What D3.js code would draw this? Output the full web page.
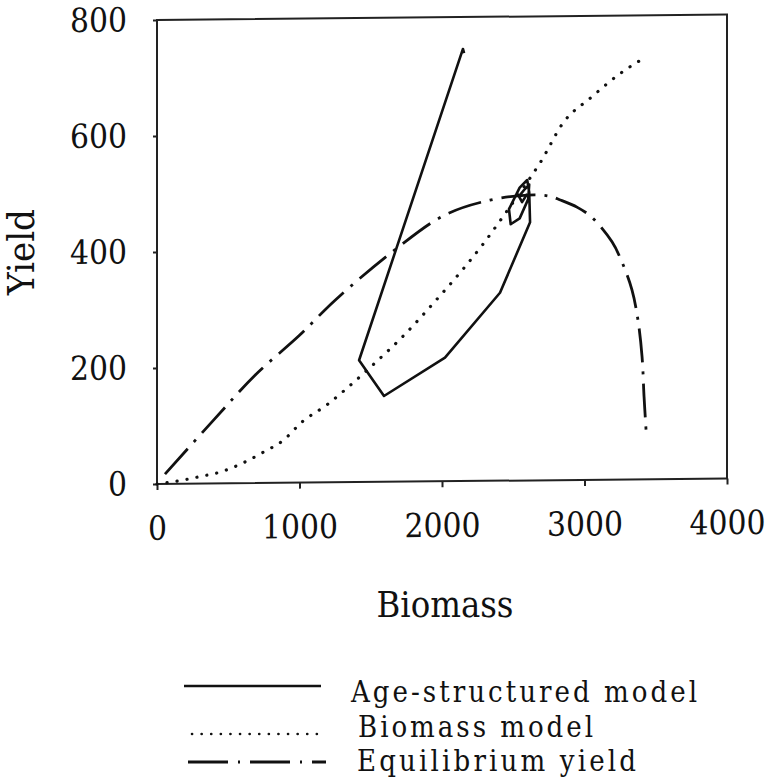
<!DOCTYPE html>
<html>
<head>
<meta charset="utf-8">
<script src="https://cdn.jsdelivr.net/npm/d3@7"></script>
<style>
  html, body { margin: 0; padding: 0; background: #fff; }
  svg { display: block; }
  svg text { font-family: "DejaVu Serif Condensed", "DejaVu Serif", "Liberation Serif", "Times New Roman", serif; font-stretch: condensed; fill: #111; }
</style>
</head>
<body>
<svg id="chart" width="767" height="781"></svg>
<script>
// ---- data ----
const xTicks = [0, 1000, 2000, 3000, 4000];
const yTicks = [0, 200, 400, 600, 800];

const ageBiomass = [2155, 2147, 1418, 1593, 2021, 2407, 2618, 2612, 2598, 2545, 2470, 2482, 2545, 2605, 2612, 2580, 2540, 2562, 2598];
const ageYield   = [738, 745, 210, 148, 213, 324, 445, 497, 518, 505, 468, 442, 452, 485, 510, 502, 490, 480, 494];

const bioBiomass = [0, 150, 300, 450, 630, 760, 880, 1020, 1200, 1333, 1516, 1740, 1950, 2160, 2300, 2410, 2500, 2600, 2690, 2850, 3050, 3250, 3430];
const bioYield   = [0, 5, 12, 20, 38, 55, 72, 105, 135, 162, 202, 254, 310, 369, 412, 449, 480, 515, 548, 616, 660, 700, 728];

const eqBiomass = [56, 400, 688, 1000, 1250, 1670, 2020, 2337, 2600, 2750, 2830, 2950, 3050, 3193, 3263, 3333, 3375, 3404, 3418, 3432];
const eqYield   = [17, 110, 186, 254, 314, 400, 459, 484, 492, 490, 483, 470, 453, 410, 375, 327, 275, 211, 142, 85];

const legendLabels = ["Age-structured model", "Biomass model", "Equilibrium yield"];

// ---- helpers ----
function fitWidth(sel, target, maxSize) {
  sel.attr("font-size", 40);
  const w = sel.node().getComputedTextLength();
  const s = Math.min(maxSize, 40 * target / w);
  sel.attr("font-size", s.toFixed(2));
  return s;
}
function fitSpacing(sel, size, target) {
  sel.attr("font-size", size).attr("letter-spacing", 0);
  const w = sel.node().getComputedTextLength();
  const n = sel.text().length;
  const ls = Math.max(0, (target - w) / Math.max(1, n - 1));
  sel.attr("letter-spacing", ls.toFixed(2));
}

// ---- layout ----
const svg = d3.select("#chart");
const W = 570, H = 464;
const x = d3.scaleLinear().domain([0, 4000]).range([0, W]);
const y = d3.scaleLinear().domain([0, 800]).range([H, 0]);

const g = svg.append("g").attr("transform", "translate(157,20) skewY(-0.55)");

// frame
g.append("rect").attr("x", 0).attr("y", 0).attr("width", W).attr("height", H)
  .attr("fill", "none").attr("stroke", "#222").attr("stroke-width", 2);

// axes
const xAxis = g.append("g").attr("transform", `translate(0,${H})`)
  .call(d3.axisBottom(x).tickValues(xTicks).tickSize(6).tickSizeOuter(0).tickPadding(26).tickFormat(d3.format("d")));
const yAxis = g.append("g")
  .call(d3.axisLeft(y).tickValues(yTicks).tickSize(4).tickSizeOuter(0).tickPadding(26).tickFormat(d3.format("d")));
[xAxis, yAxis].forEach(a => {
  a.attr("font-family", null).attr("font-size", null);
  a.select(".domain").remove();
  a.selectAll(".tick line").attr("stroke", "#222").attr("stroke-width", 2);
});
// size tick labels so that "1000" is ~76px wide as in the reference
const probe = xAxis.selectAll(".tick text").filter(d => d === 1000);
const tickSize = fitWidth(probe, 76, 37);
xAxis.selectAll(".tick text").attr("font-size", tickSize).attr("dy", "0.71em");
yAxis.selectAll(".tick text").attr("font-size", tickSize);

const age = ageBiomass.map((b, i) => [b, ageYield[i]]);
const bio = bioBiomass.map((b, i) => [b, bioYield[i]]);
const eq  = eqBiomass.map((b, i) => [b, eqYield[i]]);

g.append("path").attr("d", d3.line().x(d => x(d[0])).y(d => y(d[1])).curve(d3.curveMonotoneX)(bio))
  .attr("fill", "none").attr("stroke", "#111").attr("stroke-width", 3.2)
  .attr("stroke-linecap", "round").attr("stroke-dasharray", "0.1,10");

g.append("path").attr("d", d3.line().x(d => x(d[0])).y(d => y(d[1])).curve(d3.curveCatmullRom)(eq))
  .attr("fill", "none").attr("stroke", "#111").attr("stroke-width", 2.8)
  .attr("stroke-dasharray", "34,9,3,9");

g.append("path").attr("d", d3.line().x(d => x(d[0])).y(d => y(d[1]))(age))
  .attr("fill", "none").attr("stroke", "#111").attr("stroke-width", 2.6)
  .attr("stroke-linejoin", "round");

// axis titles
const xt = svg.append("text").attr("x", 445).attr("y", 617).attr("text-anchor", "middle").text("Biomass");
fitWidth(xt, 137, 38);
const yt = svg.append("text").attr("transform", "translate(34,252) rotate(-90)").attr("text-anchor", "middle").text("Yield");
fitWidth(yt, 87, 38);

// legend
const leg = svg.append("g");
const rows = [
  {x1: 184, x2: 321, ly: 686, tx: 351, ty: 702, tw: 346, dash: null, w: 2.6},
  {x1: 192, x2: 326, ly: 734, tx: 358, ty: 737, tw: 235, dash: "0.1,9.5", w: 2.6},
  {x1: 188, x2: 326, ly: 762, tx: 357, ty: 771, tw: 279, dash: "40,10,2,10", w: 3}
];
rows.forEach((r, i) => {
  leg.append("line").attr("x1", r.x1).attr("x2", r.x2).attr("y1", r.ly).attr("y2", r.ly)
    .attr("stroke", "#111").attr("stroke-width", r.w)
    .attr("stroke-linecap", r.dash && r.dash.startsWith("0.1") ? "round" : "butt")
    .attr("stroke-dasharray", r.dash);
  const t = leg.append("text").attr("x", r.tx).attr("y", r.ty).text(legendLabels[i]);
  fitSpacing(t, 29, r.tw);
});
</script>
</body>
</html>
